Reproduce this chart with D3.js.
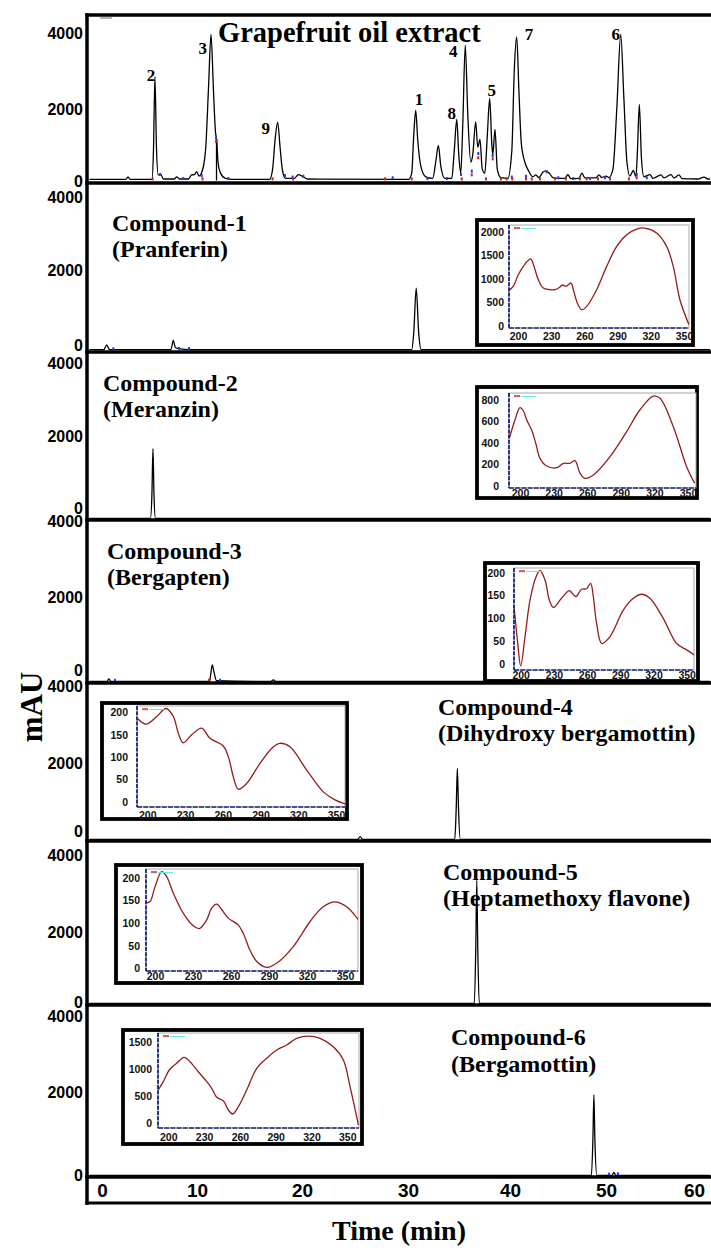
<!DOCTYPE html>
<html>
<head>
<meta charset="utf-8">
<script src="https://cdn.jsdelivr.net/npm/d3@7"></script>
<style>
  html, body { margin: 0; padding: 0; background: #fff; }
  svg { display: block; }
</style>
</head>
<body>
<svg id="chart" width="711" height="1253"></svg>
<script>
// ---------- axis ticks ----------
const timeTicks = [0, 10, 20, 30, 40, 50, 60];
const mauTicks = [0, 2000, 4000];
const nmTicks = [200, 230, 260, 290, 320, 350];

// ---------- chromatograms: [time (min), absorbance (mAU)] ----------
const extractTrace = [
  [-1.3, 30], [2.3, 30], [2.56, 90], [2.8, 30], [4.95, 30], [5.1, 800], [5.25, 2810], [5.4, 900],
  [5.58, 150], [5.8, 180], [6.1, 40], [7.2, 40], [7.42, 100], [7.7, 40], [8.6, 40], [8.9, 150],
  [9.2, 160], [9.42, 240], [9.65, 120], [9.9, 200], [10.3, 800], [10.6, 2500], [10.85, 3946],
  [11.1, 2400], [11.3, 1300], [11.42, 1100], [11.55, 500], [11.8, 200], [12.3, 60], [13, 30],
  [16.7, 30], [17.0, 300], [17.25, 1100], [17.51, 1576], [17.75, 900], [18.0, 250], [18.3, 60],
  [19.2, 60], [19.57, 160], [20, 110], [20.5, 40], [30.6, 30], [30.9, 200], [31.1, 1200],
  [31.3, 1892], [31.5, 1100], [31.8, 400], [32.3, 100], [33.0, 60], [33.3, 500], [33.56, 946],
  [33.8, 400], [34.2, 60], [34.9, 60], [35.15, 800], [35.4, 1649], [35.6, 700], [35.8, 200],
  [36.0, 1500], [36.25, 3657], [36.5, 1800], [36.8, 500], [37.0, 700], [37.29, 1586], [37.5, 900],
  [37.72, 1108], [37.95, 300], [38.2, 200], [38.45, 1200], [38.69, 2216], [38.9, 1000], [39.0, 700],
  [39.22, 1378], [39.45, 300], [39.8, 80], [40.5, 60], [40.9, 800], [41.15, 3000], [41.39, 3884],
  [41.6, 2500], [41.85, 1000], [42.2, 500], [42.6, 250], [43.0, 100], [43.3, 150], [43.6, 80],
  [44.0, 220], [44.3, 260], [44.7, 180], [45.0, 80], [45.6, 60], [46.2, 60], [46.5, 160], [46.8, 50],
  [47.6, 60], [47.9, 200], [48.2, 70], [49.3, 70], [49.6, 150], [49.9, 80], [50.3, 120], [50.6, 80],
  [51.0, 300], [51.4, 2000], [51.78, 3946], [52.1, 2200], [52.4, 500], [52.7, 120], [53.04, 270],
  [53.3, 100], [53.45, 800], [53.64, 2054], [53.85, 600], [54.1, 100], [54.7, 160], [55.0, 60],
  [55.8, 150], [56.1, 70], [56.8, 160], [57.1, 70], [57.6, 150], [57.9, 50], [59.5, 40], [60.1, 90],
  [60.5, 40], [61, 40]
];
const compound1Trace = [
  [-1.3, 10], [0.15, 10], [0.43, 140], [0.7, 10], [6.85, 10], [7.08, 260], [7.3, 60], [7.6, 40],
  [8.8, 10], [30.9, 10], [31.1, 450], [31.35, 1670], [31.6, 450], [31.85, 10], [61, 10]
];
const compound2Trace = [
  [-1.3, 0], [4.8, 0], [4.95, 700], [5.05, 1930], [5.15, 700], [5.3, 0], [61, 0]
];
const compound3Trace = [
  [-1.3, 0], [0.45, 0], [0.65, 70], [0.85, 0], [10.7, 0], [10.85, 250], [10.98, 445], [11.15, 250],
  [11.4, 20], [16.8, 0], [17.07, 45], [17.35, 0], [61, 0]
];
const compound4Trace = [
  [-1.3, 0], [25.5, 0], [25.75, 80], [26, 0], [35.2, 0], [35.35, 900], [35.46, 1960], [35.57, 900],
  [35.75, 0], [61, 0]
];
const compound5Trace = [
  [-1.3, 0], [37.15, 0], [37.3, 1500], [37.4, 3350], [37.5, 1500], [37.65, 0], [61, 0]
];
const compound6Trace = [
  [-1.3, 0], [48.85, 0], [49.0, 900], [49.1, 2030], [49.2, 900], [49.4, 0], [50.9, 0], [51.1, 80],
  [51.3, 0], [61, 0]
];

// peak numbers in the extract: [label, time, mAU]
const peakTags = [
  ["2", 4.86, 2851], ["3", 10.02, 3573], ["9", 16.31, 1427], ["1", 31.63, 2195], ["8", 34.9, 1816],
  ["4", 35.06, 3500], ["5", 38.89, 2446], ["7", 42.62, 3951], ["6", 51.28, 3951]
];

// peak-split drop line under the shoulder of peak 3: [time, mAU]
const dropLines = [[11.4, 1120]];

// integration start/end markers: [time, mAU, kind]
const extractMarks = [
  [5.02, 30, "r"], [5.75, 150, "b"], [8.08, 40, "b"], [9.92, 120, "b"], [10.0, 30, "r"],
  [11.35, 1140, "b"], [11.35, 1050, "r"], [12.58, 40, "b"], [17.0, 30, "r"], [18.24, 120, "b"],
  [19.0, 80, "b"], [19.04, 30, "r"], [20.07, 100, "b"], [28.23, 30, "r"], [29.0, 60, "b"],
  [30.9, 30, "r"], [32.46, 40, "b"], [34.4, 40, "b"], [35.82, 150, "b"], [35.9, 30, "r"],
  [36.9, 240, "b"], [36.9, 140, "r"], [37.55, 716, "b"], [37.55, 600, "r"], [38.32, 30, "r"],
  [38.99, 662, "b"], [38.99, 572, "r"], [39.82, 30, "r"], [40.39, 30, "r"], [40.9, 80, "b"],
  [40.95, 30, "r"], [42.32, 100, "b"], [42.32, 30, "r"], [42.89, 30, "r"], [43.72, 30, "r"],
  [44.39, 220, "b"], [45.22, 30, "r"], [45.55, 60, "b"], [46.3, 30, "r"], [47.04, 40, "b"],
  [47.71, 30, "r"], [48.38, 30, "r"], [48.71, 40, "b"], [49.51, 30, "r"], [50.21, 60, "b"],
  [50.71, 30, "r"], [52.6, 30, "r"], [53.38, 150, "b"], [53.38, 60, "r"], [54.38, 60, "b"]
];
const compound1Marks = [[1.1, 20, "b"], [7.66, 30, "b"], [8.66, 30, "b"]];
const compound3Marks = [[1.26, 20, "b"], [10.65, 20, "r"], [11.75, 20, "b"]];
const compound6Marks = [[50.6, 20, "b"], [51.5, 30, "b"]];

const titleLines = [
  ["Grapefruit oil extract"],
  ["Compound-1", "(Pranferin)"],
  ["Compound-2", "(Meranzin)"],
  ["Compound-3", "(Bergapten)"],
  ["Compound-4", "(Dihydroxy bergamottin)"],
  ["Compound-5", "(Heptamethoxy flavone)"],
  ["Compound-6", "(Bergamottin)"]
];

// ---------- UV spectra: [wavelength (nm), absorbance (mAU)] ----------
const uvPranferin = [
  [192, 750], [195.8, 840], [200.3, 1085], [204.8, 1260], [208, 1360], [211.5, 1420], [214.5, 1260],
  [218.3, 980], [222.9, 800], [228, 770], [233.4, 766], [237.9, 823], [240, 866], [243.4, 837],
  [247.9, 908], [250, 766], [253.6, 483], [257.5, 340], [262.1, 411], [271.1, 766], [280.1, 1262],
  [289.2, 1687], [298.2, 1936], [307.2, 2057], [314.7, 2078], [325.3, 1972], [334.3, 1687],
  [340.3, 1262], [346.3, 553], [354.5, 21]
];
const uvMeranzin = [
  [190.5, 444], [195.5, 614], [200, 728], [203, 700], [206, 614], [210.4, 521], [214, 400],
  [217.9, 257], [223.8, 186], [232.8, 170], [238.7, 211], [244.6, 211], [249.1, 236], [253.6, 118],
  [258, 71], [265.5, 102], [280.4, 273], [295.2, 505], [307, 707], [319, 837], [325, 816],
  [336.9, 552], [348.8, 180], [356, 25]
];
const uvBergapten = [
  [194, 126], [197, 53], [200, -4], [203.9, 60], [208.4, 140], [213.8, 191], [217.4, 205], [222, 184],
  [225.9, 140], [229.5, 124], [235.5, 140], [239, 150], [243.9, 161], [249.7, 148], [255.1, 164],
  [259.6, 165], [263.2, 177], [265.6, 148], [268.6, 89], [273.2, 45], [280.7, 60], [292.7, 118],
  [301.7, 144], [309.3, 153], [316.8, 144], [328.8, 100], [340.9, 45], [350, 31], [356.8, 20]
];
const uvDihydroxyBergamottin = [
  [192, 187], [199, 174], [207.5, 191], [214.9, 209], [220.7, 191], [224.7, 153], [228.6, 132],
  [235.3, 150], [243.2, 165], [249.8, 142], [260.4, 125], [264.4, 101], [268.4, 56], [272.3, 28],
  [279, 41], [289.6, 86], [300.2, 123], [305.5, 131], [313.4, 123], [326.7, 71], [339.9, 22],
  [349.2, 4], [357.2, -5]
];
const uvHeptamethoxyFlavone = [
  [192.9, 145], [196, 147], [200, 180], [205.3, 214], [209.2, 203], [214.5, 166], [222.3, 122],
  [230.2, 94], [235, 88], [240.8, 107], [244.7, 133], [248.7, 142], [252.6, 130], [257.9, 111],
  [265.7, 96], [269.7, 77], [275, 40], [280.3, 15], [288.2, 2], [296, 11], [309.2, 48], [322.3, 103],
  [332.8, 136], [342, 147], [351.3, 136], [360.5, 107]
];
const uvBergamottin = [
  [191.6, 605], [195.8, 760], [200.8, 976], [207, 1100], [213.2, 1211], [218.2, 1130], [225.1, 944],
  [232.2, 760], [236.4, 637], [240.6, 470], [246.1, 407], [250.3, 235], [254, 161], [258.7, 296],
  [265.7, 605], [274.1, 1007], [282.5, 1193], [290.9, 1346], [299.2, 1439], [307.6, 1563],
  [317.4, 1605], [327.2, 1563], [338.3, 1407], [346.7, 1161], [352.3, 667], [359.3, -43]
];
const uvTicksPranferin = [0, 500, 1000, 1500, 2000];
const uvTicksMeranzin = [0, 200, 400, 600, 800];
const uvTicksSmall = [0, 50, 100, 150, 200];
const uvTicksBergamottin = [0, 500, 1000, 1500];

// ---------- layout ----------
const SERIF = "'Liberation Serif','Times New Roman',serif";
const SANS = "'Liberation Sans',Arial,sans-serif";
const LEFT = 87, RIGHT = 711, TOP = 15, BOTTOM = 1203;

const xTime = d3.scaleLinear().domain([0, 60]).range([102.4, 703]);
// the printed time labels sit slightly off the linear grid
const xTimeLabel = d3.scaleLinear().domain(timeTicks).range([102, 197, 302, 408, 510, 606, 694]);

const panels = [
  { trace: extractTrace, marks: extractMarks, sep: 183, base: 180.5, span: 148, tickY: [181, 109, 33],
    title: { x: 218, y: [42], size: 28.5 } },
  { trace: compound1Trace, marks: compound1Marks, sep: 352, base: 350, span: 148, tickY: [345, 270, 197],
    title: { x: 112, y: [231, 257], size: 24 } },
  { trace: compound2Trace, marks: [], sep: 520, base: 518.5, span: 145, tickY: [508, 436, 363],
    title: { x: 103, y: [391, 417], size: 24 } },
  { trace: compound3Trace, marks: compound3Marks, sep: 683, base: 681.5, span: 150, tickY: [670, 597, 521],
    title: { x: 107, y: [559, 585], size: 24 } },
  { trace: compound4Trace, marks: [], sep: 841, base: 839.5, span: 145, tickY: [831, 763, 686],
    title: { x: 438, y: [715, 741], size: 24 } },
  { trace: compound5Trace, marks: [], sep: 1005, base: 1003.5, span: 147, tickY: [1002, 932, 855],
    title: { x: 443, y: [880, 906], size: 24 } },
  { trace: compound6Trace, marks: compound6Marks, sep: 1177, base: 1175.5, span: 159, tickY: [1175, 1092, 1016],
    title: { x: 451, y: [1045, 1072], size: 24 } }
];

const insets = [
  { data: uvPranferin, ticks: uvTicksPranferin, ymax: 2000, frame: [477, 220, 216, 125],
    plot: [509, 225, 689, 328], xr: [518, 684], yr: [325.7, 231.7], lab: 5, xlabY: 336 },
  { data: uvMeranzin, ticks: uvTicksMeranzin, ymax: 800, frame: [477, 387, 220, 111],
    plot: [509, 393, 696, 488], xr: [520, 688], yr: [486, 400], lab: 10, xlabY: 493 },
  { data: uvBergapten, ticks: uvTicksSmall, ymax: 200, frame: [485, 563, 213, 118],
    plot: [514, 568, 694, 670], xr: [520.7, 686.7], yr: [664, 572.8], lab: 9, xlabY: 675.7 },
  { data: uvDihydroxyBergamottin, ticks: uvTicksSmall, ymax: 200, frame: [102, 703, 245, 116],
    plot: [137, 706, 345, 807], xr: [147.3, 336], yr: [801.7, 712.5], lab: 9, xlabY: 815.7 },
  { data: uvHeptamethoxyFlavone, ticks: uvTicksSmall, ymax: 200, frame: [116, 865, 246, 118],
    plot: [146, 869, 358, 971], xr: [155, 345], yr: [968.3, 877.9], lab: 6, xlabY: 976.7 },
  { data: uvBergamottin, ticks: uvTicksBergamottin, ymax: 1500, frame: [123, 1030, 239, 114],
    plot: [158, 1033, 359, 1128], xr: [168.3, 347.3], yr: [1122.7, 1041.7], lab: 6, xlabY: 1137.3 }
];

const svg = d3.select("#chart");
const defs = svg.append("defs");

// ---------- chromatogram panels ----------
panels.forEach((p, i) => {
  const top = i === 0 ? TOP : panels[i - 1].sep;
  const y = d3.scaleLinear().domain([0, 4000]).range([p.base, p.base - p.span]);
  const yLabels = d3.scaleLinear().domain(mauTicks).range(p.tickY);
  const g = svg.append("g").attr("class", "panel");

  defs.append("clipPath").attr("id", "clip" + i)
    .append("rect").attr("x", LEFT + 2).attr("y", top + 1.5)
    .attr("width", RIGHT - LEFT - 3).attr("height", p.sep - top - 1.5);

  // y tick labels
  g.append("g")
    .attr("transform", "translate(83,0)")
    .call(d3.axisLeft(yLabels).tickValues(mauTicks).tickSize(0).tickPadding(0).tickFormat(d3.format("d")))
    .call(a => a.select(".domain").remove())
    .selectAll("text")
    .attr("font-family", SANS).attr("font-weight", "bold").attr("font-size", 16).attr("fill", "#000");

  // trace
  g.append("path")
    .datum(p.trace)
    .attr("clip-path", `url(#clip${i})`)
    .attr("fill", "none").attr("stroke", "#000").attr("stroke-width", 1.3).attr("stroke-linejoin", "round")
    .attr("d", d3.line().x(d => xTime(d[0])).y(d => y(d[1])).curve(d3.curveMonotoneX));

  if (i === 0) {
    g.selectAll("line.drop").data(dropLines).join("line")
      .attr("class", "drop")
      .attr("x1", d => xTime(d[0])).attr("x2", d => xTime(d[0]))
      .attr("y1", d => y(d[1])).attr("y2", y(0))
      .attr("stroke", "#000").attr("stroke-width", 1.3);
  }

  // integration markers
  g.selectAll("rect.mark").data(p.marks).join("rect")
    .attr("class", "mark")
    .attr("x", d => xTime(d[0]) - 1).attr("y", d => y(d[1]) - 2)
    .attr("width", 2).attr("height", 3)
    .attr("fill", d => d[2] === "b" ? "#1c3cff" : "#e31a1a");

  // title
  const t = g.append("text")
    .attr("font-family", SERIF).attr("font-weight", "bold").attr("font-size", p.title.size).attr("fill", "#000");
  titleLines[i].forEach((line, k) => {
    t.append("tspan").attr("x", p.title.x).attr("y", p.title.y[k]).text(line);
  });

  // peak numbers on the extract
  if (i === 0) {
    g.selectAll("text.peak").data(peakTags).join("text")
      .attr("class", "peak")
      .attr("x", d => xTime(d[1])).attr("y", d => y(d[2]))
      .attr("dy", "0.35em").attr("text-anchor", "middle")
      .attr("font-family", SERIF).attr("font-weight", "bold").attr("font-size", 17)
      .text(d => d[0]);
    // instrument legend stub
    g.append("line").attr("x1", 100).attr("x2", 112).attr("y1", 18).attr("y2", 18)
      .attr("stroke", "#444").attr("stroke-width", 0.8);
  }
});

// ---------- frame: left axis, top line, panel separators, time axis box ----------
const frame = svg.append("g").attr("stroke", "#000").attr("stroke-linecap", "square");
frame.append("line").attr("x1", LEFT).attr("x2", LEFT).attr("y1", TOP).attr("y2", BOTTOM).attr("stroke-width", 3.5);
frame.append("line").attr("x1", LEFT).attr("x2", RIGHT).attr("y1", TOP).attr("y2", TOP).attr("stroke-width", 3.5);
panels.forEach(p => {
  frame.append("line").attr("x1", LEFT).attr("x2", RIGHT).attr("y1", p.sep).attr("y2", p.sep).attr("stroke-width", 3.5);
});
frame.append("line").attr("x1", LEFT).attr("x2", RIGHT).attr("y1", BOTTOM).attr("y2", BOTTOM).attr("stroke-width", 3);

// time tick labels
svg.append("g")
  .attr("transform", "translate(0,1190)")
  .call(d3.axisBottom(xTimeLabel).tickValues(timeTicks).tickSize(0).tickPadding(0))
  .call(a => a.select(".domain").remove())
  .selectAll("text")
  .attr("y", 0).attr("dy", "0.36em")
  .attr("font-family", SANS).attr("font-weight", "bold").attr("font-size", 19).attr("fill", "#000");

// axis titles
svg.append("text")
  .attr("x", 399).attr("y", 1240).attr("text-anchor", "middle")
  .attr("font-family", SERIF).attr("font-weight", "bold").attr("font-size", 28)
  .text("Time (min)");
svg.append("text")
  .attr("transform", "translate(42,707) rotate(-90)").attr("text-anchor", "middle")
  .attr("font-family", SERIF).attr("font-weight", "bold").attr("font-size", 31)
  .text("mAU");

// ---------- UV spectrum insets ----------
insets.forEach((s, i) => {
  const [fx, fy, fw, fh] = s.frame;
  const [px0, py0, px1, py1] = s.plot;
  const x = d3.scaleLinear().domain([200, 350]).range(s.xr);
  const y = d3.scaleLinear().domain([0, s.ymax]).range(s.yr);
  const g = svg.append("g").attr("class", "inset");

  g.append("rect").attr("x", fx).attr("y", fy).attr("width", fw).attr("height", fh)
    .attr("fill", "#fff").attr("stroke", "#000").attr("stroke-width", 3.8);
  g.append("rect").attr("x", px0).attr("y", py0).attr("width", px1 - px0).attr("height", py1 - py0)
    .attr("fill", "#fff").attr("stroke", "#a8a8a8").attr("stroke-width", 1);

  defs.append("clipPath").attr("id", "uvclip" + i)
    .append("rect").attr("x", px0).attr("y", py0).attr("width", px1 - px0).attr("height", py1 - py0);

  g.append("path").datum(s.data)
    .attr("clip-path", `url(#uvclip${i})`)
    .attr("fill", "none").attr("stroke", "#961b1b").attr("stroke-width", 1.3)
    .attr("d", d3.line().x(d => x(d[0])).y(d => y(d[1])).curve(d3.curveCatmullRom.alpha(0.5)));

  // navy dashed axes
  g.append("line").attr("x1", px0).attr("x2", px0).attr("y1", py0).attr("y2", py1)
    .attr("stroke", "#17237a").attr("stroke-width", 1.8).attr("stroke-dasharray", "4,1.2");
  g.append("line").attr("x1", px0).attr("x2", px1).attr("y1", py1).attr("y2", py1)
    .attr("stroke", "#17237a").attr("stroke-width", 1.4).attr("stroke-dasharray", "5,1.2");

  // legend stub
  g.append("rect").attr("x", px0 + 5).attr("y", py0 + 2).attr("width", 6).attr("height", 2.2).attr("fill", "#c46a6a");
  g.append("line").attr("x1", px0 + 12).attr("x2", px0 + 27).attr("y1", py0 + 3.5).attr("y2", py0 + 3.5)
    .attr("stroke", "#66e8ee").attr("stroke-width", 1);

  g.append("g")
    .attr("transform", `translate(${px0 - s.lab},0)`)
    .call(d3.axisLeft(y).tickValues(s.ticks).tickSize(0).tickPadding(0).tickFormat(d3.format("d")))
    .call(a => a.select(".domain").remove())
    .selectAll("text")
    .attr("font-family", SANS).attr("font-weight", "bold").attr("font-size", 10.5).attr("fill", "#111");

  g.append("g")
    .attr("transform", `translate(0,${s.xlabY})`)
    .call(d3.axisBottom(x).tickValues(nmTicks).tickSize(0).tickPadding(0))
    .call(a => a.select(".domain").remove())
    .selectAll("text")
    .attr("y", 0).attr("dy", "0.36em")
    .attr("font-family", SANS).attr("font-weight", "bold").attr("font-size", 10.5).attr("fill", "#111");
});
</script>
</body>
</html>
